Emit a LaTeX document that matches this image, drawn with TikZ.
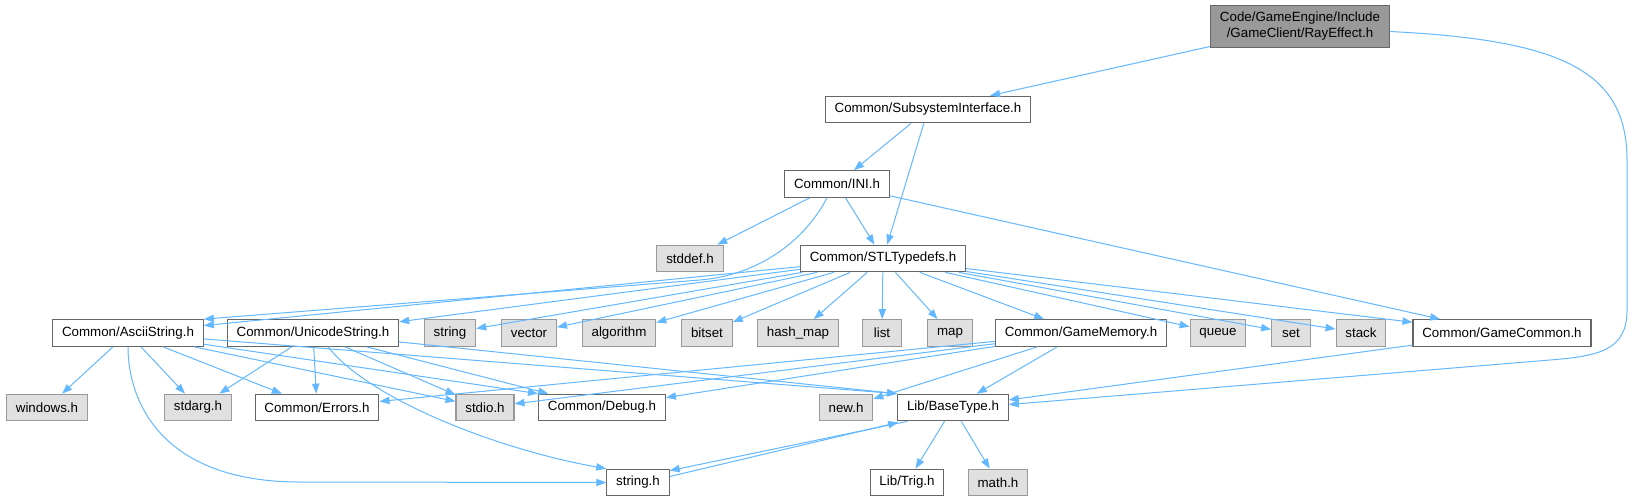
\documentclass[tikz,border=0pt]{standalone}
\usepackage{fontspec}
\setmainfont{Liberation Sans}
\usetikzlibrary{arrows.meta,calc}
\definecolor{depblue}{HTML}{63B8FF}
\definecolor{boxline}{HTML}{666666}
\definecolor{rootfill}{HTML}{999999}
\definecolor{sysfill}{HTML}{E0E0E0}
\definecolor{sysline}{HTML}{999999}

\begin{document}
\begin{tikzpicture}[x=0.75pt,y=-0.75pt,font=\fontsize{10}{12}\selectfont,
  file/.style={draw=boxline,line width=0.8pt,fill=white,inner xsep=7pt,inner ysep=2pt,
               minimum height=20pt,minimum width=29pt},
  sysfile/.style={file,draw=sysline,fill=sysfill},
  rootfile/.style={file,fill=rootfill,align=center,minimum height=32pt},
  dep/.style={draw=depblue,line width=0.75pt,-{Triangle[length=7.5pt,width=5.5pt]}}]
  \fill[white] (0,0) rectangle (1635,501);

  \node[rootfile] (ray) at (1300,26.5) {Code/GameEngine/Include\\/GameClient/RayEffect.h};
  \node[file] (subsys) at (928,109.5) {Common/SubsystemInterface.h};
  \node[file] (ini) at (837,184) {Common/INI.h};
  \node[sysfile] (stddef) at (690,258.5) {stddef.h};
  \node[file] (stl) at (883,258.5) {Common/STLTypedefs.h};

  \node[file] (ascii) at (128,333) {Common/AsciiString.h};
  \node[file] (unicode) at (313,333) {Common/UnicodeString.h};
  \node[sysfile] (str) at (450,333) {string};
  \node[sysfile] (vec) at (529,333) {vector};
  \node[sysfile] (algo) at (619,333) {algorithm};
  \node[sysfile] (bits) at (707,333) {bitset};
  \node[sysfile] (hmap) at (798,333) {hash\_map};
  \node[sysfile] (lst) at (882,333) {list};
  \node[sysfile] (map) at (950,333) {map};
  \node[file] (gmem) at (1081,333) {Common/GameMemory.h};
  \node[sysfile] (que) at (1218,333) {queue};
  \node[sysfile] (set) at (1291,333) {set};
  \node[sysfile] (stk) at (1361,333) {stack};
  \node[file] (gcom) at (1502,333) {Common/GameCommon.h};

  \node[sysfile] (win) at (47,407.5) {windows.h};
  \node[sysfile] (starg) at (198,407.5) {stdarg.h};
  \node[file] (err) at (317,407.5) {Common/Errors.h};
  \node[sysfile] (stdio) at (485,407.5) {stdio.h};
  \node[file] (dbg) at (602,407.5) {Common/Debug.h};
  \node[sysfile] (newh) at (846,407.5) {new.h};
  \node[file] (bt) at (953,407.5) {Lib/BaseType.h};

  \node[file] (strh) at (638,482.5) {string.h};
  \node[file] (trig) at (907,482.5) {Lib/Trig.h};
  \node[sysfile] (math) at (998,482.5) {math.h};

  \draw[dep] (ray) -- (subsys);
  \draw[dep] ($(ray.east)+(0,5)$) .. controls (1560,40) and (1627,70) .. (1627,160) -- (1627,310)
    .. controls (1627,350) and (1600,356) .. (1550,360) -- (bt.3);
  \draw[dep] (subsys) -- (ini);
  \draw[dep] (subsys) -- (stl);
  \draw[dep] (ini) -- (stddef);
  \draw[dep] (ini) -- (stl);
  \draw[dep] ($(ini.south)+(-10,0)$) .. controls (805,240) and (760,275) .. (700,280) -- (ascii.north east);
  \draw[dep] (ini) -- (gcom);

  \foreach \t in {ascii,unicode,str,vec,algo,bits,hmap,lst,map,gmem,que,set,stk,gcom}
    \draw[dep] (stl) -- (\t);

  \foreach \t in {win,starg,err,stdio}
    \draw[dep] (ascii) -- (\t);
  \draw[dep] (ascii) -- (dbg.north west);
  \draw[dep] (ascii) -- (bt.north west);
  \draw[dep] (ascii.south) .. controls (128,400) and (160,482) .. (300,482) -- (strh.west);

  \foreach \t in {starg,err,stdio,dbg}
    \draw[dep] (unicode) -- (\t);
  \draw[dep] (unicode) -- (bt.north west);
  \draw[dep] ($(unicode.south)+(15,0)$) .. controls (370,400) and (500,450) .. (strh.north west);

  \foreach \t in {err,stdio,dbg,newh,bt}
    \draw[dep] (gmem) -- (\t);
  \draw[dep] (gcom) -- (bt);

  \draw[dep] ($(bt.south west)+(10,0)$) -- ($(strh.north east)+(0,2)$);
  \draw[dep] ($(strh.east)+(0,-6)$) -- ($(bt.south west)+(1,1)$);
  \draw[dep] (bt) -- (trig);
  \draw[dep] (bt) -- (math);
\end{tikzpicture}
\end{document}
